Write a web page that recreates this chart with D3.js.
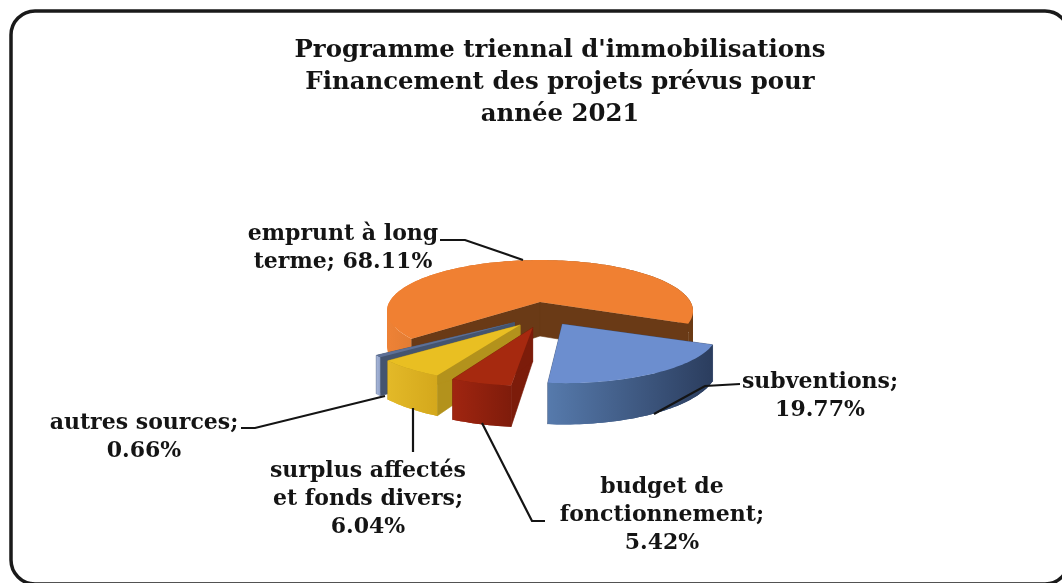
<!DOCTYPE html>
<html>
<head>
<meta charset="utf-8">
<style>
  html, body { margin: 0; padding: 0; background: #fff; }
  text { font-family: "DejaVu Serif", serif; font-weight: bold; fill: #141414; }
</style>
</head>
<body>
<div id="chartContainer"></div>
<script src="https://d3js.org/d3.v7.min.js"></script>
<script>
var categories = ["subventions", "budget de fonctionnement", "surplus affectés et fonds divers", "autres sources", "emprunt à long terme"];
var shares = [19.77, 5.42, 6.04, 0.66, 68.11];
var exploded = [1, 1, 1, 1, 0];
var titleLines = ["Programme triennal d'immobilisations", "Financement des projets prévus pour", "année 2021"];
var labelLines = [
  ["subventions;", "19.77%"],
  ["budget de", "fonctionnement;", "5.42%"],
  ["surplus affectés", "et fonds divers;", "6.04%"],
  ["autres sources;", "0.66%"],
  ["emprunt à long", "terme; 68.11%"]
];

var topColors = ["#6c8ecf", "#a6290f", "#e9bf22", "#5d7097", "#f08032"];
var sideColors = ["#3b4f74", "#7c1c0a", "#b3921c", "#44546f", "#6a3a16"];
var wallColors = [["#567aac", "#2b3d5e"], ["#a02510", "#7f1c0b"], ["#e3b928", "#d4a81c"], ["#a9b8da", "#8fa0c6"], ["#ee8236", "#6a3a14"]];

// where the labels and leaders sit, same order as categories
var labelPos = [[820, 388], [662, 493], [368, 477], [144, 429], [343, 240]];
var leaders = [
  [[740, 384], [705, 386], [654, 414]],
  [[545, 521], [532, 521], [482, 423]],
  [[413, 452], [413, 408]],
  [[241, 428], [255, 428], [385, 396]],
  [[440, 240], [465, 240], [523, 260]]
];
// the tips of the pulled out slices stay a bit nearer the middle than the rims
var apexNudge = [[-2, 1], [5, 2], [8, 3], [10, 4], [0, 0]];

var width = 1062, height = 583;
var cx = 540, cy = 302;
var radius = 150.6, tilt = 0.328, persp = 0.177 / 150.6;
var pieHeight = 34, explodeDist = 48, explodeTilt = 0.51;
var firstAngle = 114 * Math.PI / 180;

var svg = d3.select("#chartContainer").append("svg")
    .attr("width", width)
    .attr("height", height)
    .style("display", "block")
    .style("filter", "blur(0.4px)");

svg.append("rect")
    .attr("x", 11).attr("y", 11)
    .attr("width", 1058).attr("height", 573)
    .attr("rx", 24).attr("ry", 24)
    .style("fill", "#fff")
    .style("stroke", "#1a1a1a")
    .style("stroke-width", 3.5);

svg.selectAll(".title")
    .data(titleLines)
    .enter().append("text")
    .attr("class", "title")
    .attr("x", 560)
    .attr("y", function (d, i) { return 57 + i * 32; })
    .attr("text-anchor", "middle")
    .style("font-size", "24.4px")
    .text(function (d) { return d; });

var pie = d3.pie().sort(null)
    .startAngle(firstAngle)
    .endAngle(firstAngle + 2 * Math.PI);
var arcs = pie(shares);

// a point on the pie: angle clockwise from the back, distance from the slice apex
function project(a, r, drop, d) {
  var mid = (d.startAngle + d.endAngle) / 2;
  var e = exploded[d.index] * explodeDist;
  var depth = r * Math.cos(a);
  var s = 1 / (1 + persp * depth);
  return [
    cx + r * Math.sin(a) * s + e * Math.sin(mid),
    cy - depth * tilt * s - e * Math.cos(mid) * explodeTilt + drop * s
  ];
}

function apexPoint(d, drop) {
  var p = project(0, 0, drop, d);
  return [p[0] + apexNudge[d.index][0], p[1] + apexNudge[d.index][1]];
}

function rimPoints(d, drop) {
  var n = Math.max(2, Math.ceil((d.endAngle - d.startAngle) * 40));
  return d3.range(n + 1).map(function (i) {
    return project(d.startAngle + (d.endAngle - d.startAngle) * i / n, radius, drop, d);
  });
}

var line = d3.line();
var defs = svg.append("defs");
var pieG = svg.append("g");

// back to front, the big slice first
var drawOrder = [4, 3, 2, 1, 0];

drawOrder.forEach(function (idx) {
  var d = arcs[idx];
  var g = pieG.append("g").attr("class", "slice");
  var apexTop = apexPoint(d, 0), apexBot = apexPoint(d, pieHeight);
  var topRim = rimPoints(d, 0), botRim = rimPoints(d, pieHeight);

  var xs = d3.extent(topRim, function (p) { return p[0]; });
  var gradId = "wall" + idx;
  var grad = defs.append("linearGradient")
      .attr("id", gradId)
      .attr("gradientUnits", "userSpaceOnUse")
      .attr("x1", xs[0]).attr("x2", xs[1])
      .attr("y1", 0).attr("y2", 0);
  grad.append("stop").attr("offset", "0%").attr("stop-color", wallColors[idx][0]);
  grad.append("stop").attr("offset", "100%").attr("stop-color", wallColors[idx][1]);

  // outer wall: quads joined in one path, all wound the same way so the sides
  // close and no seams show
  var wall = d3.range(topRim.length - 1).map(function (i) {
    var quad = [topRim[i], topRim[i + 1], botRim[i + 1], botRim[i]];
    if (d3.polygonArea(quad) < 0) quad.reverse();
    return line(quad) + "Z";
  }).join("");
  g.append("path")
      .attr("d", wall)
      .style("fill", "url(#" + gradId + ")");

  // the two cut faces, thin stroke so no white shows at the join
  [d.startAngle, d.endAngle].forEach(function (a) {
    g.append("path")
        .attr("d", line([apexTop, project(a, radius, 0, d), project(a, radius, pieHeight, d), apexBot]) + "Z")
        .style("fill", sideColors[idx])
        .style("stroke", sideColors[idx])
        .style("stroke-width", 0.6);
  });

  // subventions and the others hide their far face under the wall, so repaint the front wall part
  if (idx !== 4) {
    g.append("path")
        .attr("d", wall)
        .style("fill", "url(#" + gradId + ")");
  }

  g.append("path")
      .attr("d", line([apexTop].concat(topRim)) + "Z")
      .style("fill", topColors[idx]);
});

// leaders
svg.selectAll(".leader")
    .data(leaders)
    .enter().append("path")
    .attr("class", "leader")
    .attr("d", function (d) { return line(d); })
    .style("fill", "none")
    .style("stroke", "#141414")
    .style("stroke-width", 2.2);

labelLines.forEach(function (lines, i) {
  svg.selectAll(".label" + i)
      .data(lines)
      .enter().append("text")
      .attr("class", "label" + i)
      .attr("x", labelPos[i][0])
      .attr("y", function (d, j) { return labelPos[i][1] + j * 28; })
      .attr("text-anchor", "middle")
      .style("font-size", "22px")
      .text(function (d) { return d; });
});
</script>
</body>
</html>
